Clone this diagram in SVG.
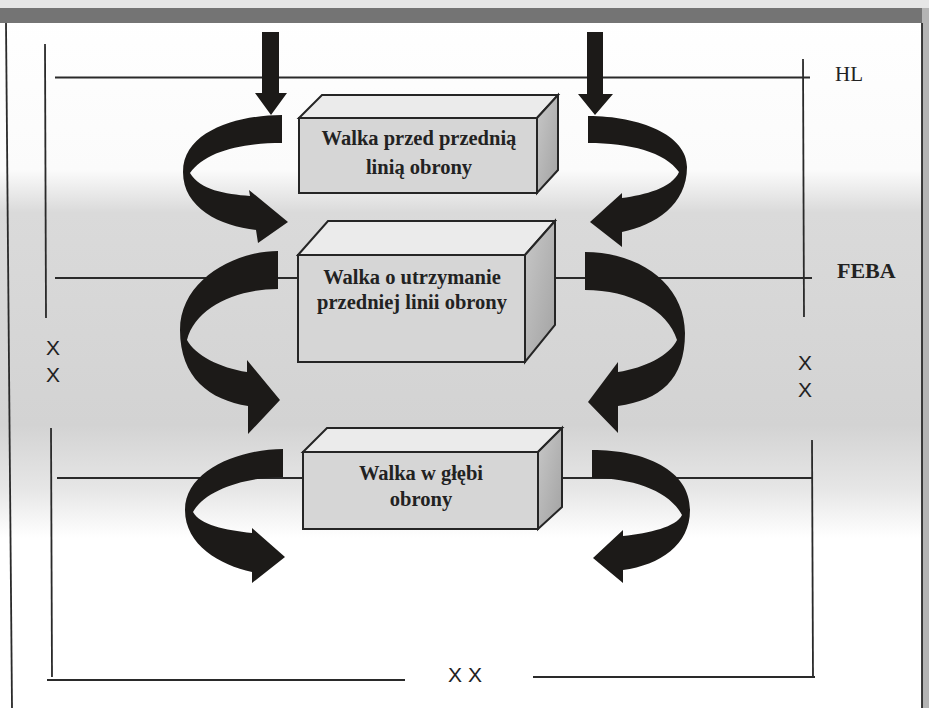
<svg xmlns="http://www.w3.org/2000/svg" width="929" height="708" viewBox="0 0 929 708">
<style>
.ln{stroke:#2a2a2a;stroke-width:1.8;fill:none}
.arr{fill:#1c1a18;stroke:none}
.front{fill:#d6d6d6;stroke:#252525;stroke-width:2}
.top{fill:#ebebeb;stroke:#252525;stroke-width:2}
.side{fill:url(#sideG);stroke:#252525;stroke-width:2}
.bt{font-family:"Liberation Serif","Times New Roman",serif;font-weight:bold;font-size:20.5px;fill:#222;text-anchor:middle}
.lab{font-family:"Liberation Serif","Times New Roman",serif;fill:#222}
.xx{font-family:"Liberation Sans",Arial,sans-serif;font-size:21px;fill:#222;text-anchor:middle}
</style>
<defs>
<linearGradient id="bg" gradientUnits="userSpaceOnUse" x1="0" y1="0" x2="0" y2="708">
<stop offset="0" stop-color="#ffffff"/>
<stop offset="0.24" stop-color="#fbfbfb"/>
<stop offset="0.3" stop-color="#dadada"/>
<stop offset="0.6" stop-color="#d3d3d3"/>
<stop offset="0.69" stop-color="#e6e6e6"/>
<stop offset="0.76" stop-color="#ffffff"/>
<stop offset="1" stop-color="#ffffff"/>
</linearGradient>
<linearGradient id="sideG" x1="0" y1="0" x2="1" y2="1">
<stop offset="0" stop-color="#c8c8c8"/>
<stop offset="1" stop-color="#a2a2a2"/>
</linearGradient>
</defs>

<rect x="0" y="0" width="929" height="708" fill="url(#bg)"/>
<rect x="0" y="0" width="929" height="8" fill="#e6e6e6"/>
<rect x="0" y="8" width="929" height="15" fill="#747474"/>
<rect x="922" y="8" width="7" height="700" fill="#b4b4b4"/>
<g id="frame">
<line class="ln" x1="6" y1="23" x2="12" y2="708"/>
<line class="ln" x1="922" y1="23" x2="922" y2="708"/>
</g>

<g id="lines">
<line class="ln" x1="55" y1="77.5" x2="810" y2="77.5"/>
<line class="ln" x1="55" y1="278" x2="812" y2="278"/>
<line class="ln" x1="57" y1="478" x2="812" y2="478"/>
<line class="ln" x1="45" y1="44" x2="46" y2="318"/>
<line class="ln" x1="51" y1="428" x2="52" y2="677"/>
<line class="ln" x1="47" y1="680" x2="405" y2="680"/>
<line class="ln" x1="533" y1="677" x2="815" y2="677"/>
<line class="ln" x1="803" y1="59" x2="804" y2="317"/>
<line class="ln" x1="812" y1="440" x2="813" y2="677"/>
</g>

<g id="labels">
<text class="lab" x="835" y="81" font-size="21">HL</text>
<text class="lab" x="837" y="278" font-size="22" font-weight="bold">FEBA</text>
<text class="xx" x="53" y="355">X</text>
<text class="xx" x="53" y="382">X</text>
<text class="xx" x="805" y="370">X</text>
<text class="xx" x="805" y="397">X</text>
<text class="xx" x="465" y="682" font-size="23">X X</text>
</g>

<g id="connectors">
<path class="arr" d="M262,32 H279 V93 H287 L271,115 L255,93 H262 Z"/>
<path class="arr" d="M587,32 H603 V94 H613 L595,115 L578,94 H587 Z"/>
<path class="arr" d="M282,115 C240,115 183,130 183,172 C183,208 220,226 256,230 L258,243 L288,222 L249,190 L250,196 C225,194 200,190 190,173 C205,152 240,143 282,143 Z"/>
<path class="arr" d="M278,251 C235,251 180,280 180,330 C180,378 210,400 248,406 L248,434 L280,400 L247,360 L247,372 C220,368 195,355 187,340 C195,308 235,289 278,289 Z"/>
<path class="arr" d="M283,449 C240,449 185,470 185,510 C185,545 220,565 252,572 L252,583 L285,557 L252,528 L252,533 C225,530 200,525 193,512 C205,490 245,477 283,477 Z"/>
<path class="arr" d="M588,116 C640,116 687,135 687,167 C687,205 655,225 622,232 L622,247 L590,222 L622,193 L622,198 C645,195 672,188 679,172 C665,152 630,143 588,143 Z"/>
<path class="arr" d="M585,252 C640,252 685,285 685,333 C685,380 660,400 618,406 L618,433 L588,402 L618,362 L618,372 C645,368 670,355 677,340 C668,310 630,290 585,290 Z"/>
<path class="arr" d="M592,450 C645,450 690,470 690,510 C690,545 660,565 623,570 L623,583 L593,558 L623,530 L623,536 C650,533 676,527 682,515 C670,492 635,478 592,478 Z"/>
</g>

<g id="box1">
<polygon class="top" points="299,118 322,95 558,95 537,118"/>
<polygon class="side" points="537,118 558,95 558,170 537,193"/>
<rect class="front" x="299" y="118" width="238" height="75"/>
<text class="bt" x="419" y="145">Walka przed przednią</text>
<text class="bt" x="419" y="174">linią obrony</text>
</g>

<g id="box2">
<polygon class="top" points="298,255 328,221 555,221 525,255"/>
<polygon class="side" points="525,255 555,221 555,325 525,362"/>
<rect class="front" x="298" y="255" width="227" height="107"/>
<text class="bt" x="412" y="284">Walka o utrzymanie</text>
<text class="bt" x="412" y="309">przedniej linii obrony</text>
</g>

<g id="box3">
<polygon class="top" points="303,452 327,428 562,428 538,452"/>
<polygon class="side" points="538,452 562,428 562,507 538,529"/>
<rect class="front" x="303" y="452" width="235" height="77"/>
<text class="bt" x="421" y="480">Walka w głębi</text>
<text class="bt" x="421" y="506">obrony</text>
</g>
</svg>
